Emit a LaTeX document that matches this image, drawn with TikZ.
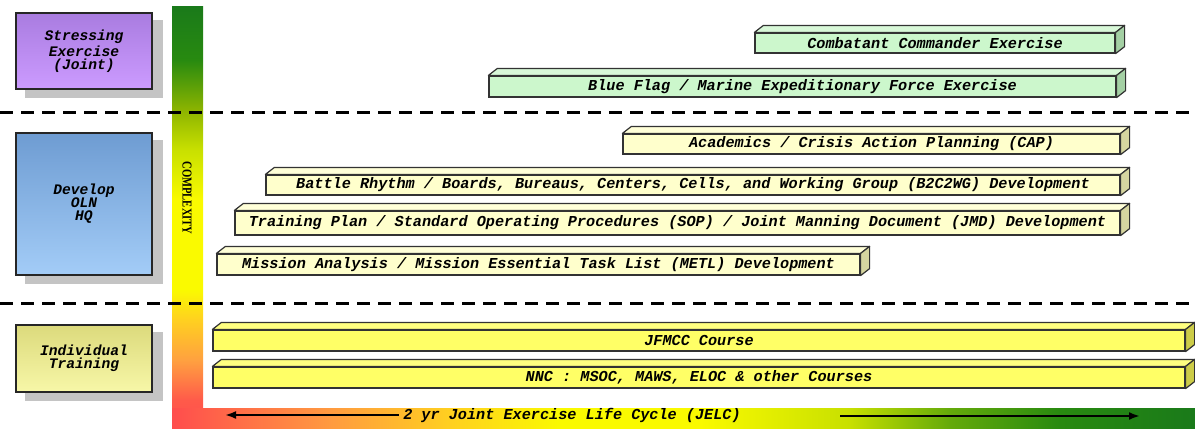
\documentclass[tikz,border=0pt]{standalone}
\usepackage{fontspec}
\usetikzlibrary{arrows.meta,backgrounds}

\newfontfamily\monofam{Liberation Mono}
\newfontfamily\seriffam{Liberation Serif}
\newcommand\lbl{\monofam\bfseries\itshape\fontsize{7.6}{6.1}\selectfont}
\newcommand\boxlbl{\monofam\bfseries\itshape\fontsize{7.3}{6.5}\selectfont}
\newcommand\cplxfont{\seriffam\bfseries\fontsize{6.8}{7}\selectfont}

\definecolor{axred}{HTML}{FF4D4D}
\definecolor{axredb}{HTML}{FF5A4A}
\definecolor{axorange}{HTML}{FFA040}
\definecolor{axorangeb}{HTML}{FF9A40}
\definecolor{axamber}{HTML}{FFD020}
\definecolor{axyellow}{HTML}{FAFA00}
\definecolor{axlime}{HTML}{C8E000}
\definecolor{axolive}{HTML}{8CB400}
\definecolor{axmidgreen}{HTML}{64AA0A}
\definecolor{axgreen}{HTML}{288A10}
\definecolor{axdkgreen}{HTML}{1A7A1A}

\definecolor{mintfront}{HTML}{CCF7CC}
\definecolor{minttop}{HTML}{D8F8D8}
\definecolor{mintside}{HTML}{A4D0A4}
\definecolor{creamfront}{HTML}{FFFFCC}
\definecolor{creamtop}{HTML}{FFFFD8}
\definecolor{creamside}{HTML}{D6D6A0}
\definecolor{yelfront}{HTML}{FFFF66}
\definecolor{yeltop}{HTML}{FFFF80}
\definecolor{yelside}{HTML}{CCCC48}
\definecolor{slabline}{HTML}{333333}

\definecolor{purtop}{HTML}{A97CE0}
\definecolor{purbot}{HTML}{CC9BFF}
\definecolor{bluetop}{HTML}{6E9CD2}
\definecolor{bluebot}{HTML}{A3CCF7}
\definecolor{oliveboxtop}{HTML}{DCDA7C}
\definecolor{oliveboxbot}{HTML}{F7F7A8}
\definecolor{boxshade}{HTML}{C4C4C4}

% complexity axis, red at the bottom to green at the top
\pgfdeclareverticalshading{cplxbar}{100bp}{color(0bp)=(axred); color(25bp)=(axred);
  color(28.3bp)=(axredb); color(33bp)=(axorange); color(37.8bp)=(axamber);
  color(41.4bp)=(axyellow); color(52bp)=(axyellow); color(58bp)=(axlime);
  color(62.7bp)=(axolive); color(68.6bp)=(axgreen); color(75bp)=(axdkgreen);
  color(100bp)=(axdkgreen)}
% life cycle axis, red on the left to green on the right
\pgfdeclarehorizontalshading{jelcbar}{100bp}{color(0bp)=(axred); color(25bp)=(axred);
  color(32.7bp)=(axorangeb); color(38.6bp)=(axamber); color(44bp)=(axyellow);
  color(50.8bp)=(axyellow); color(58.1bp)=(axlime); color(63bp)=(axmidgreen);
  color(68.4bp)=(axgreen); color(75bp)=(axdkgreen); color(100bp)=(axdkgreen)}

\begin{document}
\begin{tikzpicture}[x=0.5pt, y=-0.5pt,
    slab/.style={draw=slabline, line width=0.6pt, inner sep=0pt, font=\lbl},
    catbox/.style={draw=black!85, line width=0.7pt, inner sep=0pt, align=center,
      minimum width=68pt, font=\boxlbl},
    sepline/.style={line width=1.5pt, dash pattern=on 6.5pt off 4pt},
    cycarrow/.style={-{Latex[length=5.5pt,width=4pt]}, line width=1.1pt}]
    \useasboundingbox (0,0) rectangle (1195,429);

    \shade[shading=cplxbar] (172,6) rectangle (203,428);
    \shade[shading=jelcbar] (172,408) rectangle (1195,428);

    \draw[sepline] (0,112) -- (1195,112);
    \draw[sepline] (0,303) -- (1195,303);

    % training levels
    \node[catbox, minimum height=38pt, top color=purtop, bottom color=purbot] (stress) at (84,51) {Stressing\\Exercise\\(Joint)};
    \node[catbox, minimum height=71pt, top color=bluetop, bottom color=bluebot] (olnhq) at (84,204) {Develop\\OLN\\HQ};
    \node[catbox, minimum height=33.5pt, top color=oliveboxtop, bottom color=oliveboxbot] (indiv) at (84,358.5) {Individual\\Training};
    \begin{scope}[on background layer]
        \foreach \b in {stress,olnhq,indiv}
            \fill[boxshade] ([shift={(10,8)}]\b.north west) rectangle ([shift={(10,8)}]\b.south east);
    \end{scope}

    % events
    \node[slab, fill=mintfront, minimum width=180pt, minimum height=10pt] (cce) at (935,43) {Combatant Commander Exercise};
    \node[slab, fill=mintfront, minimum width=313.5pt, minimum height=10.5pt] (bfmef) at (802.5,86.5) {Blue Flag / Marine Expeditionary Force Exercise};
    \node[slab, fill=creamfront, minimum width=248.5pt, minimum height=10pt] (cap) at (871.5,144) {Academics / Crisis Action Planning (CAP)};
    \node[slab, fill=creamfront, minimum width=427pt, minimum height=10pt] (b2c2wg) at (693,185) {Battle Rhythm / Boards, Bureaus, Centers, Cells, and Working Group (B2C2WG) Development};
    \node[slab, fill=creamfront, minimum width=442.5pt, minimum height=12pt] (sopjmd) at (677.5,223) {Training Plan / Standard Operating Procedures (SOP) / Joint Manning Document (JMD) Development};
    \node[slab, fill=creamfront, minimum width=321.5pt, minimum height=10.5pt] (metl) at (538.5,264.5) {Mission Analysis / Mission Essential Task List (METL) Development};
    \node[slab, fill=yelfront, minimum width=486pt, minimum height=10.5pt] (jfmcc) at (699,340.5) {JFMCC Course};
    \node[slab, fill=yelfront, minimum width=486pt, minimum height=10.5pt] (nnc) at (699,377.5) {NNC : MSOC, MAWS, ELOC \& other Courses};

    % top and end faces of the bars
    \foreach \n/\tc/\sc in {cce/minttop/mintside, bfmef/minttop/mintside,
        cap/creamtop/creamside, b2c2wg/creamtop/creamside, sopjmd/creamtop/creamside,
        metl/creamtop/creamside, jfmcc/yeltop/yelside, nnc/yeltop/yelside} {
        \filldraw[fill=\tc, draw=slabline, line width=0.6pt, line join=round]
            (\n.north west) -- ++(9,-7) -- ([shift={(9,-7)}]\n.north east) -- (\n.north east) -- cycle;
        \filldraw[fill=\sc, draw=slabline, line width=0.6pt, line join=round]
            (\n.north east) -- ++(9,-7) -- ([shift={(9,-7)}]\n.south east) -- (\n.south east) -- cycle;
    }

    \node[rotate=-90, font=\cplxfont, inner sep=0pt] (cplx) at (187,198) {\scalebox{0.78}[1]{COMPLEXITY}};
    \node[font=\lbl, inner sep=2pt] (jelc) at (572,415) {2 yr Joint Exercise Life Cycle (JELC)};

    \coordinate (lcend) at (225,415);
    \coordinate (rcstart) at (840,416);
    \coordinate (rcend) at (1140,416);
    \draw[cycarrow] (jelc.west) -- (lcend);
    \draw[cycarrow] (rcstart) -- (rcend);
\end{tikzpicture}
\end{document}
